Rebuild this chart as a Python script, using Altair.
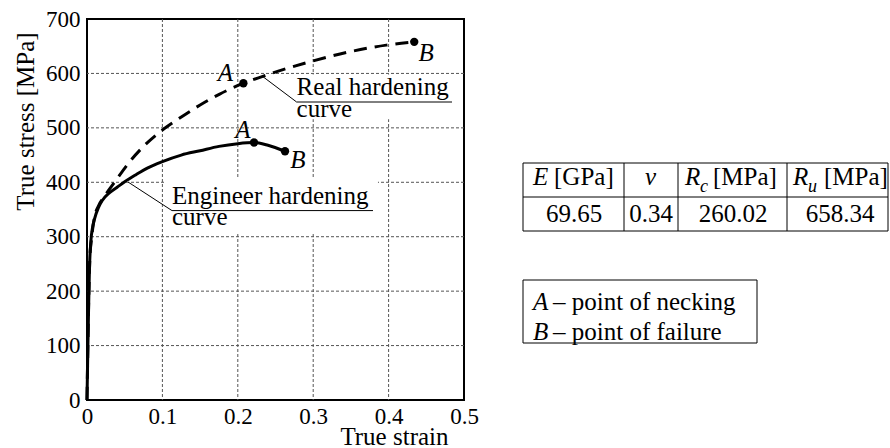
import altair as alt
import pandas as pd

# ---------------- data ----------------
eng_strain = [0.0, 0.0037, 0.005, 0.0075, 0.01, 0.015, 0.02, 0.03, 0.04, 0.05, 0.065,
              0.08, 0.1, 0.125, 0.15, 0.175, 0.2, 0.2215, 0.24, 0.2626]
eng_stress = [0, 258, 290, 318, 333, 353, 366, 381, 391, 401, 414,
              426, 438, 450, 458, 466, 471, 473, 468, 457]

real_strain = [0.0, 0.0037, 0.006, 0.01, 0.015, 0.022, 0.037, 0.055, 0.075, 0.099,
               0.123, 0.15, 0.176, 0.2074, 0.234, 0.26, 0.3, 0.349, 0.397, 0.434]
real_stress = [0, 258, 296, 336, 356, 372, 401, 435, 466, 495,
               518, 542, 562, 582, 595, 607, 623, 640, 652, 658]

x_ticks = [0, 0.1, 0.2, 0.3, 0.4, 0.5]
y_ticks = [0, 100, 200, 300, 400, 500, 600, 700]
grid_strain = [0.1, 0.2, 0.3, 0.4]
grid_stress = [100, 200, 300, 400, 500, 600]

pt_curve = ["real", "real", "eng", "eng"]
pt_label = ["A", "B", "A", "B"]
pt_strain = [0.2074, 0.434, 0.2215, 0.2626]
pt_stress = [582, 658, 473, 457]

ann_text = ["Real hardening", "curve", "Engineer hardening", "curve"]
ann_strain = [0.278, 0.278, 0.1127, 0.1127]
ann_stress = [560.5, 519.5, 361, 321.5]

# leader + underline segments
seg_strain = [0.2321, 0.278, 0.0544, 0.1127]
seg_strain2 = [0.278, 0.4841, 0.1127, 0.3793]
seg_stress = [595.3, 547.5, 400.5, 348]
seg_stress2 = [547.5, 547.5, 348, 348]

# white label backgrounds
box_strain = [0.2719, 0.1034]
box_strain2 = [0.4907, 0.3859]
box_stress = [598, 406]
box_stress2 = [516, 308.6]

# table content
tbl_sym = ["E", "ν", "R", "R"]
tbl_sub = ["", "", "c", "u"]
tbl_unit = ["[GPa]", "", "[MPa]", "[MPa]"]
tbl_val = ["69.65", "0.34", "260.02", "658.34"]

legend_sym = ["A", "B"]
legend_desc = ["– point of necking", "– point of failure"]

# ---------------- layout constants ----------------
FONT = "Liberation Serif, Times New Roman, DejaVu Serif, serif"
FS = 25
W, H = 377, 381

col_edges = [0, 101, 155, 264, 365]
row_edges = [0, 34, 68]
sym_x = [10, 122, 162, 270]
sub_x = [0, 0, 177, 285]
unit_x = [31, 0, 190, 301]
val_x = [51, 128, 210, 317]
legend_x0, legend_x1, legend_y0, legend_y1 = 0, 234, 117, 180
legend_sym_x, legend_desc_x = 10, 30
legend_base = [147, 177]

x_scale = alt.Scale(domain=[0, 0.5], nice=False, zero=False)
y_scale = alt.Scale(domain=[0, 700], nice=False, zero=False)

x_axis = alt.Axis(values=x_ticks, format="~g", title="True strain", grid=False, ticks=False,
                  domain=False, labelFont=FONT, labelFontSize=23, labelColor="black",
                  labelPadding=5, labelFlush=False, labelOverlap=False,
                  titleFont=FONT, titleFontSize=FS, titleFontWeight="normal", titleColor="black",
                  titleAlign="right", titleBaseline="alphabetic", titleX=361, titleY=44)
y_axis = alt.Axis(values=y_ticks, title="True stress [MPa]", grid=False, ticks=False,
                  domain=False, labelFont=FONT, labelFontSize=23, labelColor="black",
                  labelPadding=7, labelFlush=False, labelOverlap=False,
                  titleFont=FONT, titleFontSize=FS, titleFontWeight="normal", titleColor="black",
                  titleAngle=270, titleAlign="center", titleBaseline="alphabetic",
                  titleX=-54, titleY=102)


def X(f):
    return alt.X(f, type="quantitative", scale=x_scale, axis=x_axis)


def Y(f):
    return alt.Y(f, type="quantitative", scale=y_scale, axis=y_axis)


GRID = dict(color="#555555", strokeDash=[3, 2], strokeWidth=1)

vgrid = alt.Chart(pd.DataFrame({"strain": grid_strain})).mark_rule(**GRID).encode(x=X("strain"))
hgrid = alt.Chart(pd.DataFrame({"stress": grid_stress})).mark_rule(**GRID).encode(y=Y("stress"))

boxes = alt.Chart(pd.DataFrame({"strain": box_strain, "strain2": box_strain2,
                                "stress": box_stress, "stress2": box_stress2})).mark_rect(
    color="white").encode(x=X("strain"), x2="strain2", y=Y("stress"), y2="stress2")

eng_line = alt.Chart(pd.DataFrame({"strain": eng_strain, "stress": eng_stress})).mark_line(
    color="black", strokeWidth=3, interpolate="monotone").encode(x=X("strain"), y=Y("stress"))
real_line = alt.Chart(pd.DataFrame({"strain": real_strain, "stress": real_stress})).mark_line(
    color="black", strokeWidth=3, strokeDash=[13, 8], interpolate="monotone").encode(
    x=X("strain"), y=Y("stress"))

pts_df = pd.DataFrame({"curve": pt_curve, "label": pt_label,
                       "strain": pt_strain, "stress": pt_stress})
points = alt.Chart(pts_df).mark_circle(color="black", size=70, opacity=1).encode(
    x=X("strain"), y=Y("stress"))

label_offsets = {("real", "A"): (-18, -10), ("real", "B"): (12, 11),
                 ("eng", "A"): (-11, -13), ("eng", "B"): (13, 9)}
label_layers = []
for (c, l), (dx, dy) in label_offsets.items():
    label_layers.append(
        alt.Chart(pts_df).transform_filter(
            (alt.datum.curve == c) & (alt.datum.label == l)
        ).mark_text(font=FONT, fontSize=FS, fontStyle="italic", color="black",
                    align="center", baseline="middle", dx=dx, dy=dy).encode(
            x=X("strain"), y=Y("stress"), text="label:N"))

segs = alt.Chart(pd.DataFrame({"strain": seg_strain, "strain2": seg_strain2,
                               "stress": seg_stress, "stress2": seg_stress2})).mark_rule(
    color="black", strokeWidth=1).encode(x=X("strain"), x2="strain2", y=Y("stress"), y2="stress2")

ann = alt.Chart(pd.DataFrame({"t": ann_text, "strain": ann_strain, "stress": ann_stress})).mark_text(
    font=FONT, fontSize=FS, color="black", align="left", baseline="alphabetic").encode(
    x=X("strain"), y=Y("stress"), text="t:N")

main = alt.layer(vgrid, hgrid, boxes, eng_line, real_line, points, segs, ann, *label_layers)

# ---------------- table + legend box (own pixel-unit scales) ----------------
TX = alt.Scale(domain=[0, 365], range=[436, 801], nice=False, zero=False)
TY = alt.Scale(domain=[0, 180], range=[144, 324], nice=False, zero=False)


def TXe(f):
    return alt.X(f, type="quantitative", scale=TX, axis=None)


def TYe(f):
    return alt.Y(f, type="quantitative", scale=TY, axis=None)


hl = pd.DataFrame({"x": [col_edges[0]] * len(row_edges), "x2": [col_edges[-1]] * len(row_edges),
                   "y": row_edges, "y2": row_edges})
vl = pd.DataFrame({"x": col_edges, "x2": col_edges,
                   "y": [row_edges[0]] * len(col_edges), "y2": [row_edges[-1]] * len(col_edges)})
tbl_lines = alt.Chart(pd.concat([hl, vl], ignore_index=True)).mark_rule(
    color="black", strokeWidth=1).encode(x=TXe("x"), x2="x2", y=TYe("y"), y2="y2")

legend_box = alt.Chart(pd.DataFrame({"x": [legend_x0], "x2": [legend_x1],
                                     "y": [legend_y0], "y2": [legend_y1]})).mark_rect(
    fillOpacity=0, stroke="black", strokeWidth=1).encode(x=TXe("x"), x2="x2", y=TYe("y"), y2="y2")

sym_df = pd.DataFrame({"t": tbl_sym, "x": sym_x, "y": [22] * 4})
sub_df = pd.DataFrame({"t": tbl_sub, "x": sub_x, "y": [29] * 4})
sub_df = sub_df[sub_df.t != ""]
unit_df = pd.DataFrame({"t": tbl_unit, "x": unit_x, "y": [22] * 4})
unit_df = unit_df[unit_df.t != ""]
val_df = pd.DataFrame({"t": tbl_val, "x": val_x, "y": [59] * 4})

lsym_df = pd.DataFrame({"t": legend_sym, "x": [legend_sym_x] * 2, "y": legend_base})
ldesc_df = pd.DataFrame({"t": legend_desc, "x": [legend_desc_x] * 2, "y": legend_base})


def txt(df, size=FS, style="normal", align="left"):
    return alt.Chart(df).mark_text(font=FONT, fontSize=size, fontStyle=style, color="black",
                                   align=align, baseline="alphabetic").encode(
        x=TXe("x"), y=TYe("y"), text="t:N")


table = alt.layer(
    tbl_lines, legend_box,
    txt(sym_df, style="italic"), txt(sub_df, size=18, style="italic"), txt(unit_df),
    txt(val_df, align="center"),
    txt(lsym_df, style="italic"), txt(ldesc_df),
)

chart = alt.layer(main, table).resolve_scale(x="independent", y="independent").properties(
    width=W, height=H,
    padding={"left": 87, "top": 19, "right": 426, "bottom": 48},
    autosize=alt.AutoSizeParams(type="none"),
    background="white",
).configure_view(stroke="black", strokeWidth=2)

chart.save("out.html", embed_options={"renderer": "svg", "actions": False})
